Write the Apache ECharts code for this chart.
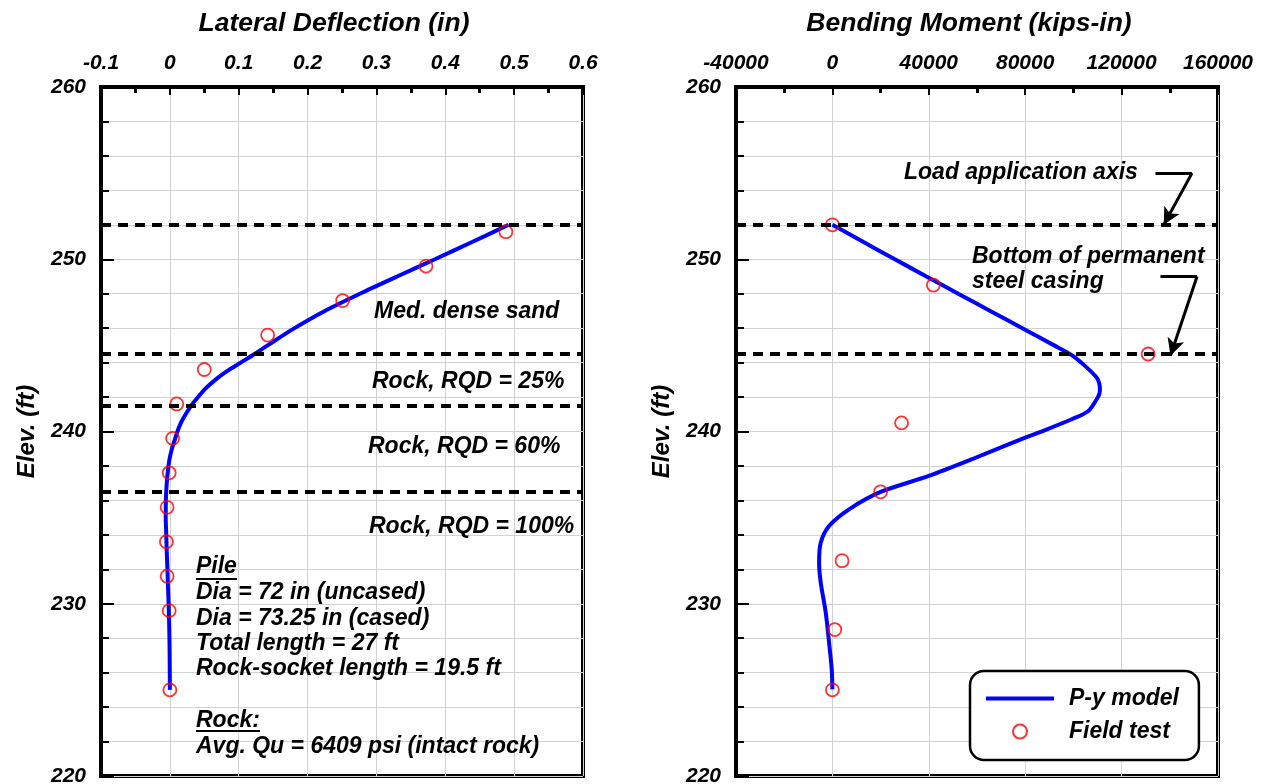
<!DOCTYPE html>
<html>
<head>
<meta charset="utf-8">
<script src="https://cdn.jsdelivr.net/npm/echarts@6/dist/echarts.min.js"></script>
<style>html,body{margin:0;padding:0;background:#fff;}#chart{width:1267px;height:784px;}</style>
</head>
<body>
<div id="chart"></div>
<script>
// ---------- Data ----------
// Lateral deflection: P-y model curve (elevation ft, deflection in)
const deflModelElev = [252, 251, 250, 249, 248, 247, 246, 245, 244.5, 244, 243.5, 243, 242.5, 242, 241.5, 241, 240.5, 240, 239.5, 239, 238.5, 238, 237, 236, 235, 234, 233, 232, 231, 230, 229, 228, 227, 226, 225];
const deflModel = [0.492, 0.439, 0.385, 0.330, 0.276, 0.225, 0.181, 0.142, 0.123, 0.103, 0.083, 0.066, 0.052, 0.041, 0.031, 0.023, 0.016, 0.011, 0.007, 0.003, 0.000, -0.002, -0.0045, -0.0058, -0.006, -0.0052, -0.0045, -0.0035, -0.0027, -0.0018, -0.0011, -0.0006, -0.0003, -0.0001, 0.0];
// Lateral deflection: field test
const deflTestElev = [251.6, 249.6, 247.6, 245.6, 243.6, 241.6, 239.6, 237.6, 235.6, 233.6, 231.6, 229.6, 225.0];
const deflTest = [0.488, 0.372, 0.251, 0.142, 0.050, 0.010, 0.004, -0.001, -0.004, -0.005, -0.004, -0.001, 0.0];

// Bending moment: P-y model curve
const momModelElev = [252, 251, 250, 249, 248, 247, 246, 245, 244.43, 243.81, 243.13, 242.8, 242.45, 242.2, 241.87, 241.19, 240.71, 239.93, 239.64, 238.39, 237.42, 236.49, 235.48, 234.51, 233.55, 232.38, 231.22, 229.48, 227.74, 226.19, 225.03];
const momModel = [0, 12900, 25900, 39000, 52200, 65500, 78800, 92000, 99300, 104800, 109650, 110700, 111000, 110800, 109650, 106200, 99300, 85500, 80000, 57900, 40000, 20000, 6900, -1380, -4830, -5520, -4830, -2760, -1380, -280, 0];
// Bending moment: field test
const momTestElev = [252, 248.5, 244.5, 240.5, 236.5, 232.5, 228.5, 225];
const momTest = [0, 41900, 131000, 28700, 20000, 4000, 1000, 0];

// Layer boundaries (elevation, ft)
const leftLevels = [252, 244.5, 241.5, 236.5];
const rightLevels = [252, 244.5];

// Arrow annotations (moment kips-in, elevation ft): start, corner, tip
const arrow1 = [[134050, 255.0], [149220, 255.0], [137490, 252.0]];
const arrow2 = [[136120, 249.0], [151300, 249.0], [140270, 244.4]];

// Axis ranges / ticks
const deflAxis = {min: -0.1, max: 0.6, interval: 0.1};
const momAxis = {min: -40000, max: 160000, interval: 40000};
const elevAxis = {min: 220, max: 260, interval: 10};

// Texts
const layerTexts = ['Med. dense sand', 'Rock, RQD = 25%', 'Rock, RQD = 60%', 'Rock, RQD = 100%'];
const pileTexts = ['Pile', 'Dia = 72 in (uncased)', 'Dia = 73.25 in (cased)', 'Total length = 27 ft', 'Rock-socket length = 19.5 ft'];
const rockTexts = ['Rock:', 'Avg. Qu = 6409 psi (intact rock)'];
const rightTexts = ['Load application axis', 'Bottom of permanent', 'steel casing'];

// ---------- Chart ----------
const FF = "'Liberation Sans', Arial, Helvetica, sans-serif";
const zip = (xs, ys) => xs.map((x, i) => [x, ys[i]]);
const grey = '#d2d2d2';

function xAx(grid, range, name) {
  return {
    gridIndex: grid, type: 'value', position: 'top',
    min: range.min, max: range.max, interval: range.interval,
    name: name, nameLocation: 'middle', nameGap: 50,
    nameTextStyle: {fontSize: 26.5, fontWeight: 'bold', fontStyle: 'italic', color: '#000', fontFamily: FF, padding: [0, 16, 0, 0]},
    axisLine: {show: true, onZero: false, lineStyle: {color: '#000', width: 4}},
    axisTick: {show: true, inside: true, length: 8, lineStyle: {color: '#000', width: 2}},
    minorTick: {show: true, splitNumber: 2, length: 6, lineStyle: {color: '#000', width: 3}},
    axisLabel: {show: true, margin: 13, fontSize: 21, fontWeight: 'bold', fontStyle: 'italic', color: '#000', fontFamily: FF,
      showMinLabel: true, showMaxLabel: true, hideOverlap: false, formatter: v => String(+v.toFixed(6))},
    splitLine: {show: true, lineStyle: {color: grey, width: 1}},
    minorSplitLine: {show: false}
  };
}
function yAx(grid) {
  return {
    gridIndex: grid, type: 'value',
    min: elevAxis.min, max: elevAxis.max, interval: elevAxis.interval,
    name: 'Elev. (ft)', nameLocation: 'middle', nameGap: 62, nameRotate: 90,
    nameTextStyle: {fontSize: 24, fontWeight: 'bold', fontStyle: 'italic', color: '#000', fontFamily: FF},
    axisLine: {show: true, onZero: false, lineStyle: {color: '#000', width: 4}},
    axisTick: {show: true, inside: true, length: 13, lineStyle: {color: '#000', width: 2}},
    minorTick: {show: true, splitNumber: 5, length: 8, lineStyle: {color: '#000', width: 2}},
    axisLabel: {show: true, margin: 15, fontSize: 21, fontWeight: 'bold', fontStyle: 'italic', color: '#000', fontFamily: FF,
      showMinLabel: true, showMaxLabel: true, hideOverlap: false},
    splitLine: {show: true, lineStyle: {color: grey, width: 1}},
    minorSplitLine: {show: true, lineStyle: {color: grey, width: 1}}
  };
}
const dashStyle = {color: '#000', width: 4, type: [10, 7]};
const arrowStyle = {color: '#000', width: 3, type: 'solid'};
function levelLines(levels) {
  return levels.map(v => ({yAxis: v, lineStyle: dashStyle, symbol: 'none'}));
}
function arrowLines(a) {
  return [
    [{coord: a[0], symbol: 'none', lineStyle: arrowStyle}, {coord: a[1], symbol: 'none', lineStyle: arrowStyle}],
    [{coord: a[1], symbol: 'none', lineStyle: arrowStyle}, {coord: a[2], symbol: 'arrow', lineStyle: arrowStyle}]
  ];
}
function modelSeries(idx, data, mlData) {
  return {
    type: 'line', name: 'P-y model', xAxisIndex: idx, yAxisIndex: idx,
    data: data, symbol: 'none', showSymbol: false, smooth: 0.3, z: 3,
    lineStyle: {color: '#0000ff', width: 4}, itemStyle: {color: '#0000ff'},
    markLine: {silent: true, animation: false, symbol: ['none', 'none'], symbolSize: [13, 17], label: {show: false},
      lineStyle: dashStyle, emphasis: {disabled: true}, data: mlData}
  };
}
function testSeries(idx, data) {
  return {
    type: 'scatter', name: 'Field test', xAxisIndex: idx, yAxisIndex: idx,
    data: data, symbol: 'circle', symbolSize: 13, z: 4,
    itemStyle: {color: 'rgba(255,255,255,0)', borderColor: '#ff0000', borderWidth: 1.8}
  };
}

const txt = (s, x, y, extra) => Object.assign({
  type: 'text', x: x, y: y, z: 50, silent: true,
  style: {text: s, fill: '#000', fontSize: 23, fontWeight: 'bold', fontStyle: 'italic', fontFamily: FF, verticalAlign: 'middle', align: 'left'}
}, extra || {});
const uline = (x1, x2, y) => ({type: 'line', z: 50, silent: true, shape: {x1: x1, y1: y, x2: x2, y2: y}, style: {stroke: '#000', lineWidth: 2}});

const graphics = [
  txt(layerTexts[0], 374, 312),
  txt(layerTexts[1], 372, 382),
  txt(layerTexts[2], 368, 447),
  txt(layerTexts[3], 369, 527),
  txt(pileTexts[0], 196, 567),
  txt(pileTexts[1], 196, 593),
  txt(pileTexts[2], 196, 619),
  txt(pileTexts[3], 196, 644),
  txt(pileTexts[4], 196, 669),
  txt(rockTexts[0], 196, 721),
  txt(rockTexts[1], 196, 747),
  uline(196, 237, 579),
  uline(196, 260, 731),
  txt(rightTexts[0], 904, 173),
  txt(rightTexts[1], 972, 257),
  txt(rightTexts[2], 972, 282)
];

const chart = echarts.init(document.getElementById('chart'), null, {renderer: 'canvas'});
chart.setOption({
  animation: false,
  backgroundColor: '#fff',
  textStyle: {fontFamily: FF},
  grid: [
    {left: 101, top: 87, width: 482, height: 689, show: true, borderColor: '#000', borderWidth: 4, backgroundColor: '#fff', containLabel: false, outerBoundsMode: 'none'},
    {left: 736, top: 87, width: 482, height: 689, show: true, borderColor: '#000', borderWidth: 4, backgroundColor: '#fff', containLabel: false, outerBoundsMode: 'none'}
  ],
  xAxis: [xAx(0, deflAxis, 'Lateral Deflection (in)'), xAx(1, momAxis, 'Bending Moment (kips-in)')],
  yAxis: [yAx(0), yAx(1)],
  legend: {
    show: true, orient: 'vertical',
    data: [
      {name: 'P-y model', icon: 'path://M0,0 L68,0 L68,4 L0,4 Z', itemStyle: {color: '#0000ff', borderWidth: 0}},
      {name: 'Field test', icon: 'circle'}
    ],
    left: 970, top: 671, padding: [16, 20, 17, 16], itemGap: 10,
    itemWidth: 68, itemHeight: 14, symbolKeepAspect: true,
    backgroundColor: '#fff', borderColor: '#000', borderWidth: 2.5, borderRadius: 14,
    textStyle: {fontSize: 23, fontWeight: 'bold', fontStyle: 'italic', color: '#000', fontFamily: FF, padding: [0, 0, 0, 10]},
    selectedMode: false
  },
  series: [
    modelSeries(0, zip(deflModel, deflModelElev), levelLines(leftLevels)),
    testSeries(0, zip(deflTest, deflTestElev)),
    modelSeries(1, zip(momModel, momModelElev), levelLines(rightLevels).concat(arrowLines(arrow1), arrowLines(arrow2))),
    testSeries(1, zip(momTest, momTestElev))
  ],
  graphic: graphics
});
</script>
</body>
</html>
